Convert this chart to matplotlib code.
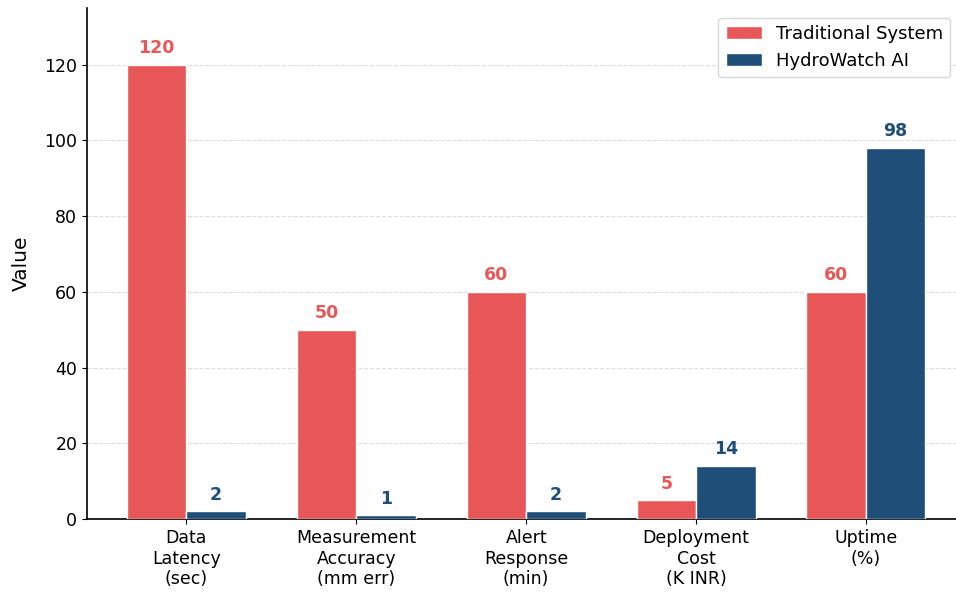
import matplotlib
matplotlib.use("Agg")
import matplotlib.pyplot as plt
import numpy as np

# metric categories and values for each system
categories = ["Data\nLatency\n(sec)", "Measurement\nAccuracy\n(mm err)", "Alert\nResponse\n(min)",
              "Deployment\nCost\n(K INR)", "Uptime\n(%)"]
traditional = [120, 50, 60, 5, 60]
hydrowatch = [2, 1, 2, 14, 98]

RED = "#E85757"
BLUE = "#1F4E79"

fig = plt.figure(figsize=(9.56, 5.95), dpi=100)
ax = fig.add_axes([87 / 956, 76 / 595, 869 / 956, 511 / 595])

x = np.arange(len(categories))
w = 0.35
b1 = ax.bar(x - w / 2, traditional, w, color=RED, edgecolor="white", linewidth=1, label="Traditional System", zorder=3)
b2 = ax.bar(x + w / 2, hydrowatch, w, color=BLUE, edgecolor="white", linewidth=1, label="HydroWatch AI", zorder=3)

# value labels above bars
for bars, color in ((b1, RED), (b2, BLUE)):
    for b in bars:
        h = b.get_height()
        ax.text(b.get_x() + b.get_width() / 2, h + 2, f"{h:g}", ha="center", va="bottom",
                color=color, fontweight="bold", fontsize=12.5)

ax.set_xticks(x)
ax.set_xticklabels(categories, fontsize=12.5)
ax.tick_params(axis="y", labelsize=12.5)
ax.set_ylabel("Value", fontsize=14.5, labelpad=10)
ax.set_ylim(0, 135)
ax.set_xlim(-0.585, 4.53)
ax.yaxis.grid(True, linestyle="--", color="#dddddd", linewidth=0.8, zorder=0)
ax.set_axisbelow(True)
for s in ("top", "right"):
    ax.spines[s].set_visible(False)
ax.spines["left"].set_linewidth(1.2)
ax.spines["bottom"].set_linewidth(1.2)

ax.legend(loc="upper right", fontsize=13, bbox_to_anchor=(1.004, 0.999))

fig.savefig("out.png", dpi=100)
